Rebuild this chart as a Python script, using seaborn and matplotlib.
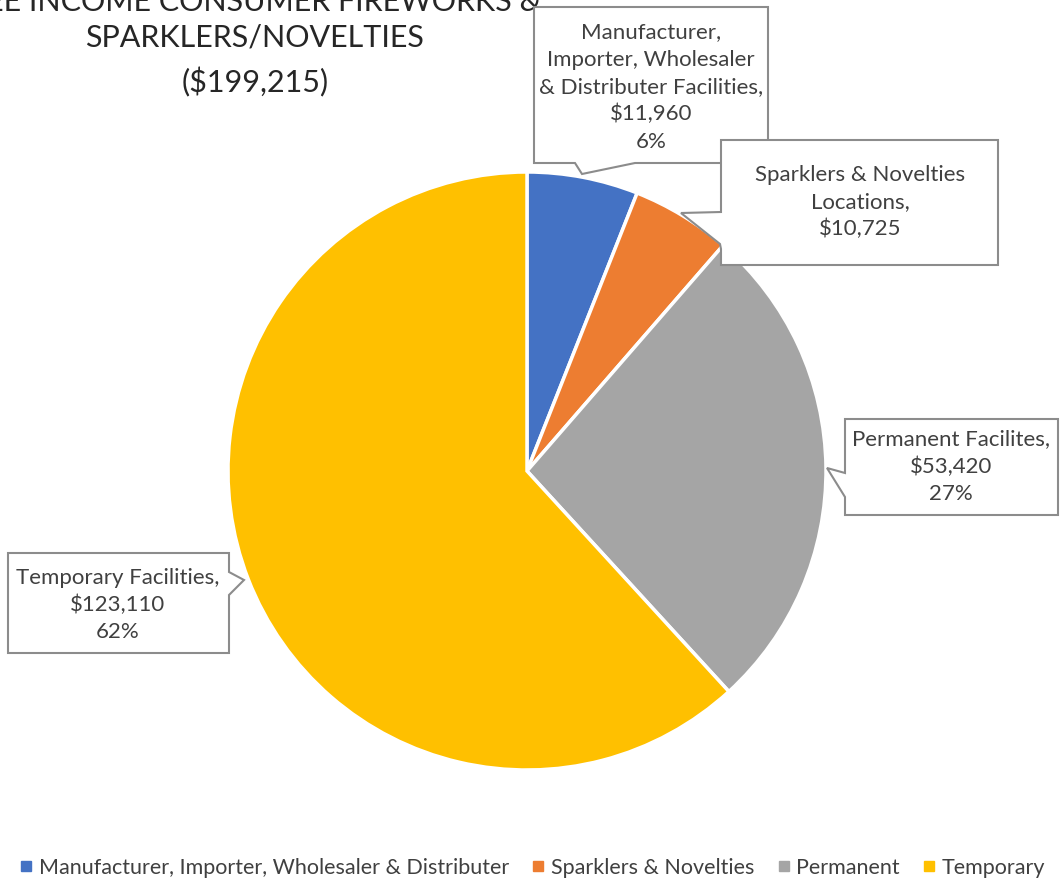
import matplotlib
matplotlib.use("Agg")
import matplotlib.pyplot as plt
from matplotlib.patches import Polygon
from matplotlib.lines import Line2D
import seaborn as sns

# data
categories = ["Manufacturer, Importer, Wholesaler & Distributer",
              "Sparklers & Novelties", "Permanent", "Temporary"]
values = [11960, 10725, 53420, 123110]
callout_names = ["Manufacturer,\nImporter, Wholesaler\n& Distributer Facilities,",
                 "Sparklers & Novelties\nLocations,",
                 "Permanent Facilites,",
                 "Temporary Facilities,"]
show_pct = [True, False, True, True]
title_lines = ["FEE INCOME CONSUMER FIREWORKS &", "SPARKLERS/NOVELTIES", "($199,215)"]

colors = ["#4472C4", "#ED7D31", "#A5A5A5", "#FFC000"]
text_col = "#404040"

sns.set_theme(style="white")
plt.rcParams["font.family"] = ["Lato", "DejaVu Sans"]

W, H = 1064, 882
fig = plt.figure(figsize=(W / 100, H / 100), dpi=100)
ax = fig.add_axes([0, 0, 1, 1])


def fy(y):
    # pixel row (from top) -> data y
    return H - y


wedges, _ = ax.pie(values, colors=colors, startangle=90, counterclock=False,
                   center=(527, fy(471)), radius=299,
                   wedgeprops=dict(edgecolor="white", linewidth=2.5))
ax.set_xlim(0, W)
ax.set_ylim(0, H)
ax.set_aspect("equal")
ax.axis("off")

# callout boxes (outline with pointer), in pixel coords
shapes = [
    [(534, 7), (768, 7), (768, 163), (635, 163), (582, 174), (575, 163), (534, 163)],
    [(721, 140), (998, 140), (998, 265), (721, 265), (721, 249), (720, 244),
     (681, 213), (721, 212)],
    [(845, 419), (1058, 419), (1058, 515), (845, 515), (845, 497), (827, 468),
     (845, 473)],
    [(8, 553), (229, 553), (229, 572), (244, 580), (229, 595), (229, 653), (8, 653)],
]
text_pos = [(651, 87), (860, 202), (951, 467), (118, 605)]

total = sum(values)
for i, name in enumerate(callout_names):
    pts = [(x, fy(y)) for x, y in shapes[i]]
    ax.add_patch(Polygon(pts, closed=True, facecolor="white", edgecolor="#8c8c8c",
                         linewidth=1.5, zorder=5 + i))
    label = f"{name}\n${values[i]:,}"
    if show_pct[i]:
        label += f"\n{round(100 * values[i] / total)}%"
    ax.text(text_pos[i][0], fy(text_pos[i][1]), label, ha="center", va="center",
            fontsize=16, color=text_col, linespacing=1.45, zorder=10 + i)

# title (first line is cut by the top edge, as in the source)
title_y = [2, 38, 82]
for line, y in zip(title_lines, title_y):
    ax.text(255, fy(y), line, ha="center", va="center", fontsize=22, color="#262626")

handles = [Line2D([], [], marker="s", linestyle="none", markersize=7,
                  markerfacecolor=c, markeredgecolor=c) for c in colors]
fig.legend(handles, categories, loc="center", bbox_to_anchor=(0.5, 1 - 868 / H),
           ncol=4, frameon=False, fontsize=15.5, labelcolor=text_col,
           handletextpad=0.25, columnspacing=1.0, handlelength=0.7)

fig.savefig("out.png", dpi=100)
plt.close(fig)
